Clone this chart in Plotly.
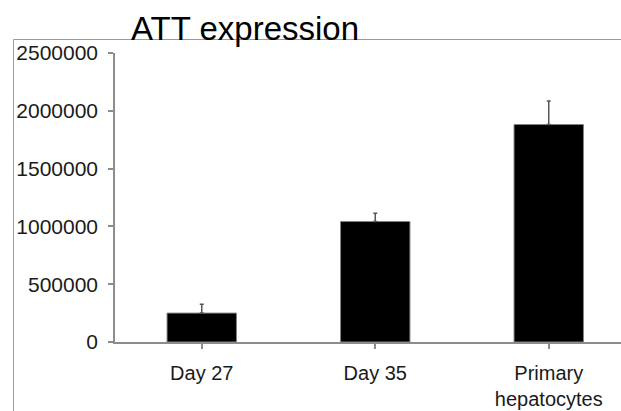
import plotly.graph_objects as go

categories = ["Day 27", "Day 35", "Primary<br>hepatocytes"]
values = [250000, 1042000, 1881000]
errors = [76000, 72000, 203000]
y_ticks = [0, 500000, 1000000, 1500000, 2000000, 2500000]
title_text = "ATT expression"

W, H = 621, 411
L, R, T, B = 115, 0, 53, 69
plot_w = W - L - R
plot_h = H - T - B
cat_w = 173.5

fig = go.Figure()
fig.add_trace(go.Bar(
    x=[0, 1, 2], y=values, width=0.4,
    marker=dict(color="#000000", line=dict(color="#808080", width=1)),
    error_y=dict(type="data", array=errors, arrayminus=[0, 0, 0], symmetric=False,
                 color="#555555", thickness=1.5, width=2),
))

axis_color = "#8c8c8c"
fig.update_layout(
    width=W, height=H,
    margin=dict(l=L, r=R, t=T, b=B, pad=0),
    paper_bgcolor="white", plot_bgcolor="white",
    showlegend=False,
    font=dict(family="Liberation Sans, Arial, sans-serif", size=20, color="#1a1a1a"),
    xaxis=dict(
        range=[-0.5, -0.5 + plot_w / cat_w],
        tickmode="array", tickvals=[0, 1, 2], ticktext=categories,
        showline=True, linecolor=axis_color, linewidth=1.5,
        ticks="outside", tickson="boundaries", ticklen=5, tickcolor=axis_color, tickwidth=1.5,
        ticklabelstandoff=7,
        showgrid=False, zeroline=False, fixedrange=True,
    ),
    yaxis=dict(
        range=[0, 2500000],
        tickmode="array", tickvals=y_ticks, ticktext=[str(v) for v in y_ticks],
        tickfont=dict(size=21),
        showline=True, linecolor=axis_color, linewidth=1.5,
        ticks="outside", ticklen=5, tickcolor=axis_color, tickwidth=1.5,
        ticklabelstandoff=6,
        showgrid=False, zeroline=False, fixedrange=True,
    ),
)

# frame lines of the original image
top_y = (H - B - 39.5) / plot_h
left_x = (13.5 - L) / plot_w
fig.add_shape(type="line", xref="paper", yref="paper", x0=left_x, x1=1.0, y0=top_y, y1=top_y,
              line=dict(color="#9a9a9a", width=1))
fig.add_shape(type="line", xref="paper", yref="paper", x0=left_x, x1=left_x, y0=top_y, y1=-B / plot_h,
              line=dict(color="#9a9a9a", width=1))

fig.add_annotation(text=title_text, xref="paper", yref="paper",
                   x=(129 - L) / plot_w, y=(H - B - 40) / plot_h,
                   xanchor="left", yanchor="bottom", yshift=-9, showarrow=False,
                   font=dict(size=33, color="#000000"))

fig.write_html("out.html", config={"displayModeBar": False},
               post_script="document.body.style.margin='0';")
